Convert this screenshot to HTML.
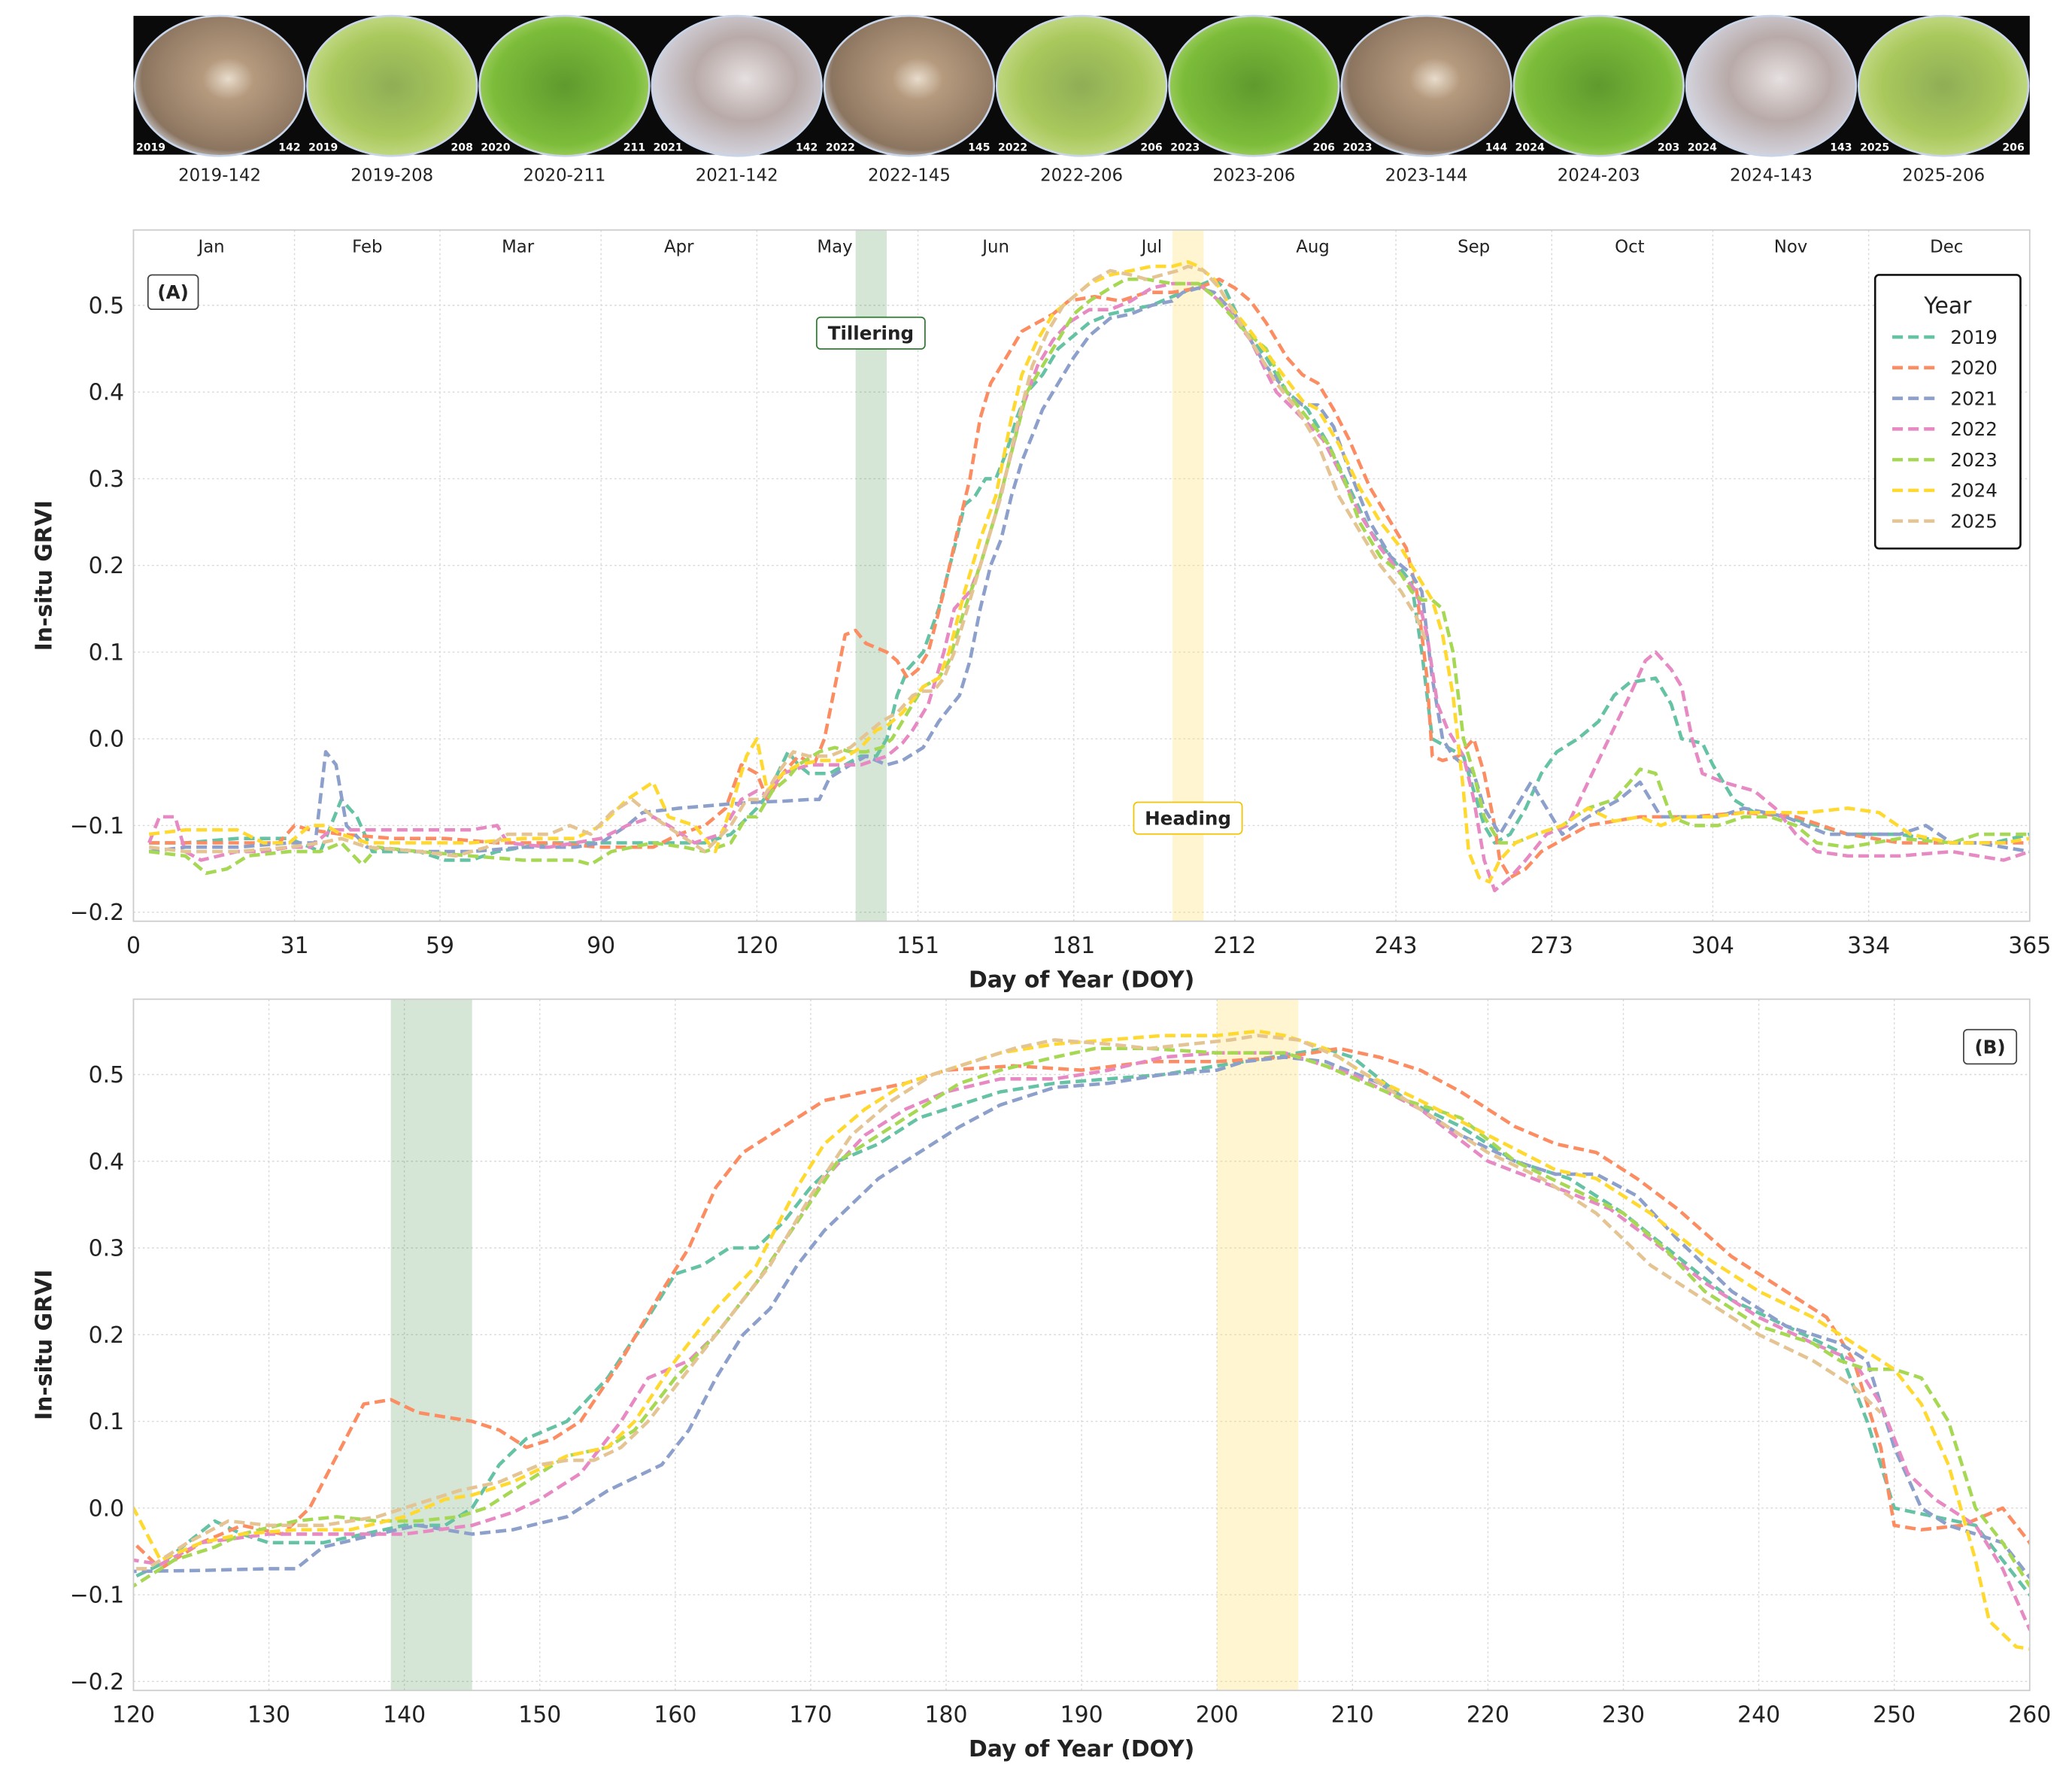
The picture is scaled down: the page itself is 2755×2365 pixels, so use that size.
<!DOCTYPE html>
<html><head><meta charset="utf-8">
<style>
html,body{margin:0;padding:0;background:#fff;}
svg{display:block;font-family:"DejaVu Sans","Liberation Sans",sans-serif;}
</style></head>
<body>
<svg id="chart" width="2755" height="2365" viewBox="0 0 1568 1346" preserveAspectRatio="none" xmlns="http://www.w3.org/2000/svg">
<defs>
<radialGradient id="gBrown" cx="0.55" cy="0.45" r="0.6"><stop offset="0" stop-color="#e8dccc"/><stop offset="0.25" stop-color="#b59a7e"/><stop offset="0.85" stop-color="#8c7560"/><stop offset="1" stop-color="#cfd6e0"/></radialGradient>
<radialGradient id="gGreen" cx="0.5" cy="0.5" r="0.6"><stop offset="0" stop-color="#5f9a2e"/><stop offset="0.7" stop-color="#7cbc3a"/><stop offset="1" stop-color="#b8dc7a"/></radialGradient>
<radialGradient id="gGreen2" cx="0.5" cy="0.5" r="0.6"><stop offset="0" stop-color="#8fae56"/><stop offset="0.6" stop-color="#a9c85c"/><stop offset="1" stop-color="#cfe29a"/></radialGradient>
<radialGradient id="gGray" cx="0.55" cy="0.45" r="0.6"><stop offset="0" stop-color="#e6e0e0"/><stop offset="0.5" stop-color="#b8aaa8"/><stop offset="1" stop-color="#d8dae6"/></radialGradient>
<clipPath id="clipA"><rect x="101" y="174" width="1435" height="523"/></clipPath>
<clipPath id="clipB"><rect x="101" y="756" width="1435" height="523"/></clipPath>
</defs>
<g id="strip"></g>
<g id="panelA"></g>
<g id="panelB"></g>
</svg>
<script>
const years = ["2019","2020","2021","2022","2023","2024","2025"];
const colors = ["#66c2a5","#fc8d62","#8da0cb","#e78ac3","#a6d854","#ffd92f","#e5c494"];
const s2019 = [[3,-0.12],[10,-0.12],[20,-0.115],[30,-0.115],[36,-0.13],[40,-0.07],[43,-0.09],[46,-0.13],[55,-0.13],[60,-0.14],[65,-0.14],[70,-0.13],[80,-0.12],[90,-0.12],[100,-0.12],[110,-0.12],[115,-0.11],[120,-0.08],[122,-0.065],[126,-0.015],[128,-0.03],[130,-0.04],[134,-0.04],[137,-0.03],[140,-0.02],[143,-0.02],[145,0.0],[147,0.05],[149,0.08],[152,0.1],[155,0.15],[158,0.22],[160,0.27],[162,0.28],[164,0.3],[166,0.3],[168,0.33],[170,0.37],[172,0.4],[175,0.42],[178,0.45],[180,0.46],[184,0.48],[188,0.49],[192,0.495],[196,0.5],[200,0.51],[204,0.52],[206,0.525],[208,0.53],[210,0.52],[214,0.47],[218,0.44],[222,0.4],[226,0.38],[230,0.34],[234,0.29],[238,0.24],[242,0.21],[246,0.18],[248,0.1],[250,0.0],[253,-0.01],[256,-0.02],[258,-0.06],[260,-0.1],[262,-0.12],[265,-0.11],[268,-0.08],[271,-0.04],[274,-0.015],[278,0.0],[282,0.02],[285,0.05],[288,0.065],[293,0.07],[296,0.04],[298,0.0],[302,-0.005],[304,-0.03],[308,-0.07],[312,-0.085],[318,-0.09],[324,-0.1],[330,-0.11],[340,-0.11],[350,-0.12],[358,-0.12],[365,-0.11]];
const s2020 = [[3,-0.12],[10,-0.12],[20,-0.12],[28,-0.12],[31,-0.1],[34,-0.105],[40,-0.11],[50,-0.115],[60,-0.115],[70,-0.12],[80,-0.12],[90,-0.125],[100,-0.125],[105,-0.11],[110,-0.1],[114,-0.08],[117,-0.03],[120,-0.04],[122,-0.07],[125,-0.04],[128,-0.02],[131,-0.03],[133,0.0],[135,0.06],[137,0.12],[139,0.125],[141,0.11],[143,0.105],[145,0.1],[147,0.09],[149,0.07],[151,0.08],[153,0.1],[156,0.17],[159,0.25],[161,0.3],[163,0.37],[165,0.41],[168,0.44],[171,0.47],[174,0.48],[177,0.49],[180,0.505],[185,0.51],[190,0.505],[195,0.515],[200,0.515],[205,0.52],[209,0.53],[212,0.52],[215,0.505],[218,0.48],[222,0.44],[225,0.42],[228,0.41],[231,0.38],[234,0.345],[238,0.29],[242,0.25],[245,0.22],[247,0.17],[249,0.07],[250,-0.02],[252,-0.025],[255,-0.02],[258,0.0],[260,-0.04],[262,-0.1],[263,-0.14],[265,-0.16],[268,-0.15],[271,-0.13],[274,-0.12],[280,-0.1],[290,-0.09],[300,-0.09],[310,-0.085],[320,-0.09],[330,-0.11],[340,-0.12],[350,-0.12],[360,-0.12],[365,-0.12]];
const s2021 = [[3,-0.13],[10,-0.125],[20,-0.125],[30,-0.12],[35,-0.12],[37,-0.015],[39,-0.03],[41,-0.1],[45,-0.125],[55,-0.13],[65,-0.13],[75,-0.125],[85,-0.125],[90,-0.12],[95,-0.1],[98,-0.085],[105,-0.08],[115,-0.075],[120,-0.073],[125,-0.072],[130,-0.07],[132,-0.07],[134,-0.045],[138,-0.03],[141,-0.02],[143,-0.025],[145,-0.03],[148,-0.025],[152,-0.01],[155,0.02],[157,0.035],[159,0.05],[161,0.09],[163,0.15],[165,0.2],[167,0.23],[169,0.28],[171,0.32],[173,0.35],[175,0.38],[178,0.41],[181,0.44],[184,0.465],[188,0.485],[192,0.49],[196,0.5],[200,0.505],[202,0.515],[205,0.52],[208,0.515],[212,0.49],[215,0.46],[218,0.43],[222,0.4],[225,0.385],[228,0.385],[231,0.36],[234,0.31],[238,0.25],[242,0.21],[246,0.19],[248,0.17],[250,0.07],[252,0.0],[254,-0.02],[258,-0.04],[260,-0.08],[263,-0.11],[266,-0.08],[269,-0.05],[272,-0.08],[275,-0.11],[280,-0.09],[286,-0.07],[290,-0.05],[292,-0.07],[294,-0.09],[300,-0.09],[305,-0.09],[310,-0.08],[318,-0.09],[322,-0.1],[326,-0.11],[334,-0.11],[340,-0.11],[345,-0.1],[350,-0.12],[355,-0.12],[360,-0.125],[365,-0.13]];
const s2022 = [[3,-0.12],[5,-0.09],[8,-0.09],[10,-0.13],[13,-0.14],[20,-0.13],[25,-0.13],[30,-0.125],[34,-0.125],[38,-0.105],[45,-0.105],[55,-0.105],[65,-0.105],[70,-0.1],[72,-0.12],[80,-0.125],[90,-0.115],[95,-0.1],[100,-0.09],[103,-0.1],[108,-0.12],[113,-0.11],[117,-0.07],[120,-0.06],[122,-0.065],[125,-0.04],[130,-0.03],[135,-0.03],[140,-0.03],[145,-0.02],[148,-0.005],[150,0.01],[153,0.04],[156,0.1],[158,0.15],[161,0.17],[163,0.2],[166,0.26],[169,0.33],[171,0.38],[174,0.43],[177,0.46],[180,0.48],[184,0.495],[188,0.495],[192,0.505],[196,0.52],[200,0.525],[205,0.525],[210,0.5],[215,0.46],[220,0.4],[225,0.37],[229,0.345],[232,0.31],[236,0.26],[240,0.22],[244,0.19],[247,0.17],[249,0.12],[251,0.04],[253,0.01],[256,-0.02],[258,-0.07],[260,-0.14],[262,-0.175],[265,-0.16],[268,-0.14],[272,-0.11],[276,-0.1],[280,-0.05],[284,0.0],[288,0.05],[291,0.09],[293,0.1],[296,0.08],[298,0.06],[300,0.0],[302,-0.04],[306,-0.05],[312,-0.06],[316,-0.08],[320,-0.11],[324,-0.13],[330,-0.135],[340,-0.135],[350,-0.13],[355,-0.135],[360,-0.14],[365,-0.13]];
const s2023 = [[3,-0.13],[10,-0.135],[14,-0.155],[18,-0.15],[22,-0.135],[30,-0.13],[36,-0.13],[40,-0.12],[44,-0.145],[47,-0.125],[55,-0.13],[65,-0.135],[75,-0.14],[85,-0.14],[88,-0.145],[92,-0.13],[100,-0.12],[106,-0.125],[110,-0.13],[115,-0.12],[118,-0.09],[120,-0.09],[123,-0.06],[126,-0.045],[128,-0.03],[132,-0.015],[135,-0.01],[138,-0.015],[141,-0.015],[144,-0.01],[146,0.0],[149,0.03],[152,0.06],[155,0.07],[157,0.09],[160,0.15],[163,0.2],[166,0.26],[169,0.33],[172,0.4],[175,0.43],[178,0.46],[181,0.49],[184,0.505],[188,0.52],[191,0.53],[195,0.53],[200,0.525],[205,0.525],[208,0.51],[211,0.49],[214,0.47],[218,0.45],[222,0.4],[226,0.37],[230,0.34],[233,0.3],[236,0.25],[240,0.21],[244,0.19],[246,0.17],[248,0.16],[250,0.16],[252,0.15],[254,0.1],[256,0.0],[258,-0.04],[260,-0.09],[263,-0.12],[266,-0.12],[270,-0.11],[275,-0.1],[280,-0.08],[285,-0.07],[288,-0.05],[290,-0.035],[293,-0.04],[296,-0.09],[300,-0.1],[305,-0.1],[310,-0.09],[315,-0.09],[320,-0.1],[324,-0.12],[330,-0.125],[340,-0.115],[350,-0.12],[355,-0.11],[365,-0.11]];
const s2024 = [[3,-0.11],[10,-0.105],[20,-0.105],[25,-0.12],[30,-0.12],[34,-0.1],[37,-0.1],[40,-0.11],[45,-0.12],[55,-0.12],[65,-0.12],[75,-0.115],[85,-0.115],[90,-0.1],[95,-0.07],[100,-0.05],[103,-0.09],[108,-0.1],[112,-0.13],[115,-0.08],[118,-0.02],[120,0.0],[122,-0.06],[125,-0.04],[128,-0.03],[132,-0.025],[136,-0.025],[140,-0.01],[143,0.01],[145,0.015],[148,0.03],[152,0.06],[155,0.07],[157,0.1],[160,0.17],[163,0.23],[166,0.28],[169,0.37],[171,0.42],[174,0.46],[177,0.49],[180,0.505],[184,0.525],[188,0.535],[192,0.54],[196,0.545],[200,0.545],[203,0.55],[205,0.545],[208,0.53],[211,0.5],[215,0.47],[220,0.43],[225,0.39],[228,0.38],[232,0.34],[236,0.29],[240,0.25],[244,0.22],[247,0.19],[250,0.16],[252,0.12],[254,0.05],[256,-0.06],[257,-0.13],[259,-0.16],[261,-0.165],[263,-0.14],[266,-0.12],[270,-0.11],[275,-0.1],[280,-0.08],[285,-0.095],[290,-0.09],[294,-0.1],[298,-0.09],[304,-0.09],[310,-0.085],[316,-0.085],[322,-0.085],[330,-0.08],[336,-0.085],[342,-0.11],[350,-0.12],[360,-0.12],[365,-0.115]];
const s2025 = [[3,-0.125],[10,-0.13],[20,-0.13],[30,-0.125],[36,-0.12],[40,-0.115],[45,-0.125],[55,-0.13],[62,-0.135],[68,-0.125],[72,-0.11],[76,-0.11],[80,-0.11],[84,-0.1],[88,-0.11],[92,-0.085],[96,-0.07],[100,-0.09],[105,-0.11],[110,-0.13],[115,-0.1],[118,-0.07],[121,-0.07],[124,-0.04],[127,-0.015],[130,-0.02],[134,-0.02],[138,-0.01],[141,0.005],[144,0.02],[147,0.03],[150,0.05],[152,0.055],[154,0.055],[156,0.07],[158,0.1],[161,0.16],[164,0.22],[167,0.28],[170,0.36],[173,0.43],[176,0.47],[179,0.5],[182,0.515],[185,0.53],[188,0.54],[192,0.535],[195,0.53],[198,0.535],[201,0.54],[203,0.545],[206,0.54],[209,0.52],[212,0.49],[216,0.45],[220,0.41],[224,0.38],[228,0.34],[232,0.28],[236,0.24],[240,0.2],[244,0.17],[247,0.14],[249,0.11]];
const series = [s2019,s2020,s2021,s2022,s2023,s2024,s2025];
const ticksA = [0,31,59,90,120,151,181,212,243,273,304,334,365];
const ticksB = [120,130,140,150,160,170,180,190,200,210,220,230,240,250,260];
const yTicks = [-0.2,-0.1,0.0,0.1,0.2,0.3,0.4,0.5];
const months = ["Jan","Feb","Mar","Apr","May","Jun","Jul","Aug","Sep","Oct","Nov","Dec"];
const monthMid = [15,45,74,105,135,166,196,227,258,288,319,349];
const imgLabels = ["2019-142","2019-208","2020-211","2021-142","2022-145","2022-206","2023-206","2023-144","2024-203","2024-143","2025-206"];
const imgKinds = ["gBrown","gGreen2","gGreen","gGray","gBrown","gGreen2","gGreen","gBrown","gGreen","gGray","gGreen2"];
const tillering = [139,145];
const heading = [200,206];

const NS="http://www.w3.org/2000/svg";
function mk(parent,tag,attrs,text){const e=document.createElementNS(NS,tag);for(const k in attrs)e.setAttribute(k,attrs[k]);if(text!==undefined)e.textContent=text;parent.appendChild(e);return e;}

// image strip
const strip=document.getElementById('strip');
const sx0=101,sw=(1536-101)/11;
let bg=mk(strip,'rect',{x:101,y:12,width:1435,height:105,fill:'#0a0a0a'});


imgLabels.forEach((lab,i)=>{
  const cx=sx0+sw*i+sw/2;
  const el=mk(strip,'ellipse',{cx:cx,cy:65,rx:sw/2-1,ry:53,fill:'url(#'+imgKinds[i]+')',stroke:'#c8d4e8','stroke-width':1.5});
  
  
  const t=mk(strip,'text',{x:cx,y:137,'text-anchor':'middle','font-size':13,fill:'#222'},lab);
  
  
  const t1=mk(strip,'text',{x:sx0+sw*i+2,y:114,'font-size':8,fill:'#fff','font-weight':'bold'},lab.slice(0,4));
  
  
  const t2=mk(strip,'text',{x:sx0+sw*(i+1)-4,y:114,'font-size':8,fill:'#fff','text-anchor':'end','font-weight':'bold'},lab.slice(5));
  
  
});

function panel(g,cfg){
  const {L,R,T,B,x0,x1,ticks,clip}=cfg;
  const X=d=>L+(d-x0)/(x1-x0)*(R-L);
  const Y=v=>559-(559-231)/0.5*v + (T-174);
  // grid
  ticks.forEach(d=>{const l=mk(g,'line',{x1:X(d),x2:X(d),y1:T,y2:B,stroke:'#d8d8d8','stroke-width':0.8,'stroke-dasharray':'1.5,2'});
    
    });
  yTicks.forEach(v=>{const l=mk(g,'line',{x1:L,x2:R,y1:Y(v),y2:Y(v),stroke:'#d8d8d8','stroke-width':0.8,'stroke-dasharray':'1.5,2'});
    
    });
  // bands
  const b1=mk(g,'rect',{x:X(tillering[0]),y:T,width:X(tillering[1])-X(tillering[0]),height:B-T,fill:'#2e7d32','fill-opacity':0.2});
  
  
  const b2=mk(g,'rect',{x:X(heading[0]),y:T,width:X(heading[1])-X(heading[0]),height:B-T,fill:'#ffe066','fill-opacity':0.3});
  
  
  // lines
  const lg=mk(g,'g',{'clip-path':'url(#'+clip+')'});
  series.forEach((s,i)=>{
    const d=s.map((p,j)=>(j?'L':'M')+X(p[0]).toFixed(1)+','+Y(p[1]).toFixed(1)).join('');
    const p=mk(lg,'path',{d:d,fill:'none',stroke:colors[i],'stroke-width':2.6,'stroke-dasharray':'8,4','stroke-linejoin':'round'});
    
    
  });
  // frame
  const f=mk(g,'rect',{x:L,y:T,width:R-L,height:B-T,fill:'none',stroke:'#cccccc','stroke-width':1});
  
  
  ticks.forEach(d=>{const t=mk(g,'text',{x:X(d),y:B+24,'text-anchor':'middle','font-size':17,fill:'#222'},String(d));
    
    });
  yTicks.forEach(v=>{const t=mk(g,'text',{x:L-7,y:Y(v)+6,'text-anchor':'end','font-size':17,fill:'#222'},(v<0?'\u2212':'')+Math.abs(v).toFixed(1));
    
    });
  const xt=mk(g,'text',{x:(L+R)/2,y:B+50,'text-anchor':'middle','font-size':17,'font-weight':'bold',fill:'#222'},'Day of Year (DOY)');
  
  
  const yt=mk(g,'text',{x:0,y:0,transform:'translate(39,'+((T+B)/2)+') rotate(-90)','text-anchor':'middle','font-size':17,'font-weight':'bold',fill:'#222'},'In-situ GRVI');
  
  
  return {X,Y};
}
const A=panel(document.getElementById('panelA'),{L:101,R:1536,T:174,B:697,x0:0,x1:365,ticks:ticksA,clip:'clipA'});
const B=panel(document.getElementById('panelB'),{L:101,R:1536,T:756,B:1279,x0:120,x1:260,ticks:ticksB,clip:'clipB'});
const gA=document.getElementById('panelA');
months.forEach((m,i)=>{const t=mk(gA,'text',{x:A.X(monthMid[i]),y:191,'text-anchor':'middle','font-size':13,fill:'#222'},m);
  
  });
function badge(g,x,y,w,h,txt,stroke,name){
  const r=mk(g,'rect',{x:x-w/2,y:y-h/2,width:w,height:h,rx:3,fill:'#fff',stroke:stroke,'stroke-width':1});
  
  
  const t=mk(g,'text',{x:x,y:y+5,'text-anchor':'middle','font-size':14,'font-weight':'bold',fill:'#222'},txt);
  
  
}
badge(gA,131,221,38,26,'(A)','#444','panel-a-label');
badge(gA,659,252,82,24,'Tillering','#2e7d32','tillering-annotation');
badge(gA,899,619,82,24,'Heading','#f5c400','heading-annotation');
badge(document.getElementById('panelB'),1506,792,40,26,'(B)','#444','panel-b-label');
// legend
const lgd=mk(gA,'g',{});


const lr=mk(lgd,'rect',{x:1419,y:208,width:110,height:207,rx:3,fill:'#fff',stroke:'#111','stroke-width':1.5});


const lt=mk(lgd,'text',{x:1474,y:237,'text-anchor':'middle','font-size':17,fill:'#222'},'Year');


years.forEach((y,i)=>{
  const yy=255+i*23.2;
  const l=mk(lgd,'line',{x1:1432,x2:1464,y1:yy,y2:yy,stroke:colors[i],'stroke-width':2.6,'stroke-dasharray':'8,4'});
  
  
  const t=mk(lgd,'text',{x:1476,y:yy+5,'font-size':14,fill:'#222'},y);
  
  
});
</script>
</body></html>
